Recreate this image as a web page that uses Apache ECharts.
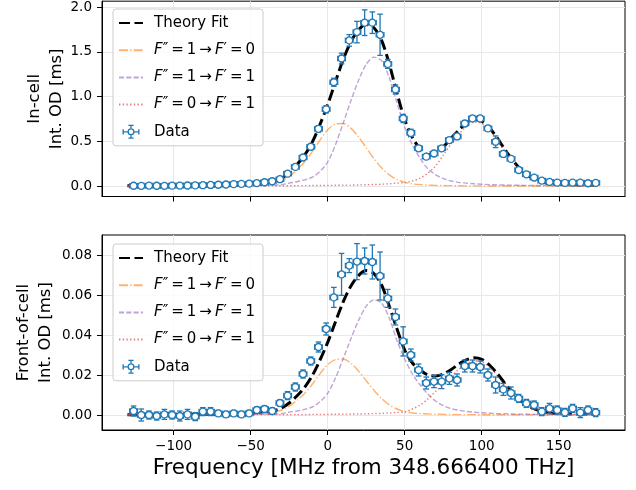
<!DOCTYPE html>
<html><head><meta charset="utf-8">
<script src="https://cdn.jsdelivr.net/npm/echarts@6/dist/echarts.min.js"></script>
<style>html,body{margin:0;padding:0;background:#fff}#c{width:636px;height:490px}</style>
</head><body><div id="c"></div>
<script>
const fitX = [-130,-125,-120,-115,-110,-105,-100,-95,-90,-85,-80,-75,-70,-65,-60,-55,-50,-45,-40,-35,-30,-25,-20,-15,-10,-5,0,5,10,15,20,25,30,35,40,45,50,55,60,65,70,75,80,85,90,95,100,105,110,115,120,125,130,135,140,145,150,155,160,165,170,175];

const topFit = [0.004,0.004,0.004,0.004,0.004,0.006,0.006,0.006,0.006,0.008,
0.009,0.009,0.011,0.012,0.015,0.019,0.023,0.029,0.040,0.056,
0.090,0.150,0.240,0.346,0.492,0.688,0.909,1.163,1.411,1.610,
1.745,1.806,1.768,1.627,1.363,1.038,0.743,0.544,0.417,0.352,
0.364,0.437,0.534,0.623,0.706,0.746,0.725,0.651,0.538,0.410,
0.291,0.192,0.119,0.072,0.044,0.029,0.022,0.017,0.015,0.012,
0.011,0.010];
const topC1 = [0.001,0.001,0.001,0.001,0.001,0.002,0.002,0.002,0.002,0.003,
0.003,0.003,0.004,0.005,0.007,0.009,0.012,0.016,0.024,0.036,
0.063,0.110,0.183,0.270,0.385,0.515,0.630,0.693,0.700,0.648,
0.551,0.430,0.309,0.205,0.126,0.074,0.043,0.026,0.017,0.012,
0.009,0.007,0.006,0.005,0.004,0.004,0.003,0.003,0.003,0.002,
0.002,0.002,0.002,0.002,0.001,0.001,0.001,0.001,0.001,0.001,
0.001,0.001];
const topC2 = [0.002,0.002,0.002,0.002,0.002,0.003,0.003,0.003,0.003,0.004,
0.004,0.004,0.005,0.005,0.006,0.007,0.008,0.009,0.011,0.013,
0.017,0.035,0.050,0.070,0.100,0.165,0.270,0.460,0.700,0.950,
1.180,1.360,1.440,1.400,1.210,0.930,0.660,0.460,0.310,0.195,
0.130,0.085,0.058,0.043,0.034,0.027,0.022,0.018,0.015,0.013,
0.011,0.010,0.009,0.008,0.007,0.006,0.006,0.005,0.005,0.004,
0.004,0.004];
const topC3 = [0.001,0.001,0.001,0.001,0.001,0.001,0.001,0.001,0.001,0.001,
0.002,0.002,0.002,0.002,0.002,0.003,0.003,0.004,0.004,0.004,
0.005,0.005,0.006,0.006,0.007,0.008,0.009,0.010,0.011,0.012,
0.014,0.016,0.019,0.022,0.027,0.034,0.040,0.058,0.090,0.145,
0.225,0.345,0.470,0.575,0.668,0.715,0.700,0.630,0.520,0.395,
0.278,0.180,0.108,0.062,0.036,0.022,0.015,0.011,0.009,0.007,
0.006,0.005];

const botFit = [0.0001,0.0001,0.0001,0.0001,0.0001,0.0002,0.0002,0.0002,0.0002,0.0003,
0.0004,0.0004,0.0005,0.0005,0.0006,0.0008,0.0009,0.0012,0.0016,0.0021,
0.0034,0.0060,0.0095,0.0138,0.0197,0.0275,0.0363,0.0465,0.0564,0.0644,
0.0697,0.0722,0.0707,0.0650,0.0544,0.0430,0.0325,0.0260,0.0225,0.0200,
0.0195,0.0205,0.0226,0.0254,0.0276,0.0286,0.0278,0.0250,0.0208,0.0158,
0.0112,0.0074,0.0047,0.0028,0.0017,0.0010,0.0008,0.0006,0.0005,0.0005,
0.0004,0.0004];
const botC1 = [0.0000,0.0000,0.0000,0.0000,0.0000,0.0001,0.0001,0.0001,0.0001,0.0001,
0.0001,0.0001,0.0002,0.0002,0.0003,0.0004,0.0005,0.0006,0.0010,0.0014,
0.0025,0.0044,0.0073,0.0108,0.0154,0.0206,0.0252,0.0277,0.0280,0.0259,
0.0220,0.0172,0.0124,0.0082,0.0050,0.0030,0.0017,0.0010,0.0007,0.0005,
0.0004,0.0003,0.0002,0.0002,0.0002,0.0002,0.0001,0.0001,0.0001,0.0001,
0.0001,0.0001,0.0001,0.0001,0.0000,0.0000,0.0000,0.0000,0.0000,0.0000,
0.0000,0.0000];
const botC2 = [0.0001,0.0001,0.0001,0.0001,0.0001,0.0001,0.0001,0.0001,0.0001,0.0002,
0.0002,0.0002,0.0002,0.0002,0.0002,0.0003,0.0003,0.0004,0.0004,0.0005,
0.0007,0.0014,0.0020,0.0028,0.0040,0.0066,0.0108,0.0184,0.0280,0.0380,
0.0472,0.0544,0.0576,0.0560,0.0484,0.0372,0.0280,0.0205,0.0150,0.0105,
0.0070,0.0047,0.0032,0.0024,0.0018,0.0014,0.0011,0.0009,0.0007,0.0006,
0.0005,0.0004,0.0004,0.0003,0.0003,0.0002,0.0002,0.0002,0.0002,0.0002,
0.0002,0.0002];
const botC3 = [0.0000,0.0000,0.0000,0.0000,0.0000,0.0000,0.0000,0.0000,0.0000,0.0000,
0.0001,0.0001,0.0001,0.0001,0.0001,0.0001,0.0001,0.0002,0.0002,0.0002,
0.0002,0.0002,0.0002,0.0002,0.0003,0.0003,0.0003,0.0004,0.0004,0.0005,
0.0005,0.0006,0.0007,0.0008,0.0010,0.0013,0.0015,0.0030,0.0050,0.0080,
0.0118,0.0155,0.0192,0.0228,0.0256,0.0270,0.0266,0.0239,0.0198,0.0150,
0.0106,0.0068,0.0041,0.0024,0.0014,0.0008,0.0006,0.0004,0.0003,0.0003,
0.0002,0.0002];

const dataX = [-126,-121,-116,-111,-106,-101,-96,-91,-86,-81,-76,-71,-66,-61,-56,-51,-46,-41,-36,-31,-26,-21,-16,-11,-6,-1,4,9,14,19,24,29,34,39,44,49,54,59,64,69,74,79,84,89,94,99,104,109,114,119,124,129,134,139,144,149,154,159,164,169,174];
const topY = [0.005,0.004,0.007,0.005,0.004,0.006,0.007,0.008,0.009,0.011,
0.014,0.016,0.019,0.023,0.026,0.028,0.034,0.044,0.055,0.078,
0.140,0.215,0.320,0.440,0.640,0.858,1.160,1.425,1.627,1.720,
1.825,1.825,1.690,1.365,1.080,0.756,0.595,0.423,0.330,0.365,
0.423,0.515,0.555,0.700,0.756,0.756,0.645,0.496,0.360,0.305,
0.181,0.133,0.096,0.062,0.048,0.040,0.037,0.040,0.040,0.033,
0.037];
const topErr = [0.012,0.012,0.012,0.012,0.012,0.012,0.012,0.012,0.012,0.012,
0.012,0.012,0.012,0.012,0.012,0.012,0.012,0.012,0.012,0.015,
0.020,0.020,0.022,0.025,0.035,0.040,0.045,0.060,0.065,0.120,
0.143,0.120,0.230,0.050,0.050,0.045,0.040,0.030,0.025,0.025,
0.025,0.025,0.028,0.030,0.030,0.030,0.030,0.065,0.030,0.025,
0.020,0.018,0.015,0.012,0.012,0.012,0.012,0.012,0.012,0.012,
0.012];
const botY = [0.0020,0.0000,0.0000,-0.0005,0.0003,0.0000,-0.0005,0.0003,-0.0008,0.0017,
0.0017,0.0008,0.0003,0.0008,0.0003,0.0008,0.0025,0.0030,0.0020,0.0060,
0.0097,0.0140,0.0205,0.0270,0.0340,0.0430,0.0588,0.0703,0.0747,0.0767,
0.0770,0.0765,0.0695,0.0583,0.0490,0.0368,0.0300,0.0225,0.0160,0.0167,
0.0167,0.0183,0.0175,0.0245,0.0245,0.0240,0.0200,0.0150,0.0128,0.0110,
0.0083,0.0058,0.0050,0.0017,0.0033,0.0025,0.0013,0.0033,0.0012,0.0025,
0.0012];
const botErr = [0.0025,0.0030,0.0020,0.0020,0.0025,0.0020,0.0025,0.0025,0.0020,0.0020,
0.0020,0.0015,0.0015,0.0015,0.0015,0.0015,0.0015,0.0015,0.0015,0.0015,
0.0020,0.0020,0.0020,0.0020,0.0025,0.0030,0.0050,0.0105,0.0035,0.0090,
0.0065,0.0085,0.0120,0.0045,0.0040,0.0073,0.0030,0.0030,0.0030,0.0030,
0.0035,0.0030,0.0030,0.0030,0.0030,0.0030,0.0030,0.0040,0.0030,0.0030,
0.0020,0.0020,0.0020,0.0020,0.0025,0.0020,0.0020,0.0020,0.0025,0.0020,
0.0020];
const xErr = 2.5;

const xTicks = [-100,-50,0,50,100,150];
const topTicks = [0,0.5,1.0,1.5,2.0];
const botTicks = [0,0.02,0.04,0.06,0.08];

const NAME_FIT = 'Theory Fit';
const NAME_C1 = 'F″=1→F′=0';
const NAME_C2 = 'F″=1→F′=1';
const NAME_C3 = 'F″=0→F′=1';
const NAME_DATA = 'Data';
const S = '\u2009';
const legendText = {};
legendText[NAME_FIT] = 'Theory Fit';
legendText[NAME_C1] = '{it|F}″'+S+'='+S+'1'+S+'→'+S+'{it|F}′'+S+'='+S+'0';
legendText[NAME_C2] = '{it|F}″'+S+'='+S+'1'+S+'→'+S+'{it|F}′'+S+'='+S+'1';
legendText[NAME_C3] = '{it|F}″'+S+'='+S+'0'+S+'→'+S+'{it|F}′'+S+'='+S+'1';
legendText[NAME_DATA] = 'Data';

const FONT = 'DejaVu Sans';
const BLUE = '#1f77b4';

const dataIcon = 'path://M12,7 A3.5,3.5 0 1,0 5,7 A3.5,3.5 0 1,0 12,7 Z M10.7,7 A2.2,2.2 0 1,1 6.3,7 A2.2,2.2 0 1,1 10.7,7 Z ' +
  'M0.7,6.35 L5,6.35 L5,7.65 L0.7,7.65 Z M12,6.35 L16.3,6.35 L16.3,7.65 L12,7.65 Z ' +
  'M0,4.4 L1.3,4.4 L1.3,9.6 L0,9.6 Z M15.7,4.4 L17,4.4 L17,9.6 L15.7,9.6 Z ' +
  'M7.85,1.3 L9.15,1.3 L9.15,3.6 L7.85,3.6 Z M5.9,0 L11.1,0 L11.1,1.3 L5.9,1.3 Z ' +
  'M7.85,10.4 L9.15,10.4 L9.15,12.7 L7.85,12.7 Z M5.9,12.7 L11.1,12.7 L11.1,14 L5.9,14 Z';

function zip(xs, ys) { return xs.map((x, i) => [x, ys[i]]); }

function errRender(params, api) {
  const x = api.value(0), y = api.value(1), ey = api.value(2), ex = api.value(3);
  const c = api.coord([x, y]);
  const t = api.coord([x, y + ey]);
  const b = api.coord([x, y - ey]);
  const l = api.coord([x - ex, y]);
  const r = api.coord([x + ex, y]);
  const cap = 2.8;
  const st = { stroke: BLUE, lineWidth: 1.3, fill: null };
  return { type: 'group', children: [
    { type: 'line', shape: { x1: c[0], y1: t[1], x2: c[0], y2: b[1] }, style: st },
    { type: 'line', shape: { x1: c[0] - cap, y1: t[1], x2: c[0] + cap, y2: t[1] }, style: st },
    { type: 'line', shape: { x1: c[0] - cap, y1: b[1], x2: c[0] + cap, y2: b[1] }, style: st },
    { type: 'line', shape: { x1: l[0], y1: c[1], x2: r[0], y2: c[1] }, style: st },
    { type: 'line', shape: { x1: l[0], y1: c[1] - cap, x2: l[0], y2: c[1] + cap }, style: st },
    { type: 'line', shape: { x1: r[0], y1: c[1] - cap, x2: r[0], y2: c[1] + cap }, style: st }
  ]};
}

function panelSeries(g, fit, c1, c2, c3, ys, errs) {
  const common = { xAxisIndex: g, yAxisIndex: g, type: 'line', symbol: 'none', showSymbol: false, smooth: 0.3, silent: true, animation: false };
  return [
    Object.assign({}, common, { name: NAME_FIT, data: zip(fitX, fit), z: 3, lineStyle: { color: '#000', width: 3, type: [11, 4.5] } }),
    Object.assign({}, common, { name: NAME_C1, data: zip(fitX, c1), z: 3, lineStyle: { color: 'rgba(255,127,14,0.6)', width: 1.4, type: [8.9, 2.2, 1.4, 2.2] } }),
    Object.assign({}, common, { name: NAME_C2, data: zip(fitX, c2), z: 3, lineStyle: { color: 'rgba(148,103,189,0.6)', width: 1.4, type: [5.1, 2.2] } }),
    Object.assign({}, common, { name: NAME_C3, data: zip(fitX, c3), z: 3, lineStyle: { color: 'rgba(214,39,40,0.6)', width: 1.4, type: [1.4, 2.3] } }),
    { type: 'custom', name: 'errbars', xAxisIndex: g, yAxisIndex: g, z: 4, silent: true, animation: false,
      renderItem: errRender, encode: { x: 0, y: 1 },
      data: dataX.map((x, i) => [x, ys[i], errs[i], xErr]) },
    { type: 'scatter', name: NAME_DATA, xAxisIndex: g, yAxisIndex: g, z: 6, silent: true, animation: false,
      symbol: 'circle', symbolSize: 7,
      itemStyle: { color: '#ffffff', borderColor: BLUE, borderWidth: 1.3, opacity: 1 },
      data: zip(dataX, ys) }
  ];
}

function legendCfg(top) {
  const hide = { opacity: 0 };
  return {
    orient: 'vertical', left: 113, top: top,
    padding: [5, 8, 5, 5], itemGap: 9.2, itemWidth: 24, itemHeight: 14,
    backgroundColor: 'rgba(255,255,255,0.8)', borderColor: '#cccccc', borderWidth: 1, borderRadius: 3,
    selectedMode: false,
    data: [
      { name: NAME_FIT, itemStyle: hide },
      { name: NAME_C1, itemStyle: hide },
      { name: NAME_C2, itemStyle: hide },
      { name: NAME_C3, itemStyle: hide },
      { name: NAME_DATA, icon: dataIcon, itemStyle: { color: BLUE, borderWidth: 0, opacity: 1 } }
    ],
    formatter: name => legendText[name],
    textStyle: { fontFamily: FONT, fontSize: 15, color: '#000', lineHeight: 18, padding: [0, 0, 0, 6],
      rich: { it: { fontFamily: FONT, fontStyle: 'italic', fontSize: 15, color: '#000', lineHeight: 18 } } }
  };
}

const xFmt = v => (v < 0 ? '\u2212' + Math.abs(v) : String(v));
const gridLine = { show: true, lineStyle: { color: '#e8e8e8', width: 1 } };
const tickStyle = { lineStyle: { color: '#000', width: 1 }, length: 5 };

function xAxisCfg(g, showLabels) {
  const a = {
    gridIndex: g, type: 'value', min: -146.5, max: 193,
    axisLine: { onZero: false, lineStyle: { color: '#000', width: 1 } },
    axisTick: Object.assign({ customValues: xTicks }, tickStyle),
    axisLabel: { show: showLabels, customValues: xTicks, formatter: xFmt, fontFamily: FONT, fontSize: 13.5, color: '#000', margin: 9 },
    splitLine: gridLine
  };
  if (showLabels) {
    a.name = 'Frequency [MHz from 348.666400 THz]';
    a.nameLocation = 'middle';
    a.nameGap = 25;
    a.nameMoveOverlap = false;
    a.nameTextStyle = { fontFamily: FONT, fontSize: 21.5, color: '#000', lineHeight: 26 };
  }
  return a;
}
function yAxisCfg(g, min, max, ticks, dec, name, gap) {
  return {
    gridIndex: g, type: 'value', min: min, max: max,
    axisLine: { onZero: false, lineStyle: { color: '#000', width: 1 } },
    axisTick: Object.assign({ customValues: ticks }, tickStyle),
    axisLabel: { customValues: ticks, formatter: v => v.toFixed(dec), fontFamily: FONT, fontSize: 13.5, color: '#000', margin: 10 },
    splitLine: gridLine,
    name: name, nameLocation: 'middle', nameGap: gap, nameMoveOverlap: false,
    nameTextStyle: { fontFamily: FONT, fontSize: 16.5, color: '#000', lineHeight: 22 }
  };
}

const chart = echarts.init(document.getElementById('c'), null, { renderer: 'canvas' });
chart.setOption({
  backgroundColor: '#fff',
  animation: false,
  textStyle: { fontFamily: FONT },
  grid: [
    { left: 102, right: 11, top: 1, height: 195.5, show: true, borderColor: '#000', borderWidth: 1, backgroundColor: 'transparent' },
    { left: 102, right: 11, top: 235, height: 195, show: true, borderColor: '#000', borderWidth: 1, backgroundColor: 'transparent' }
  ],
  xAxis: [xAxisCfg(0, false), xAxisCfg(1, true)],
  yAxis: [
    yAxisCfg(0, -0.115, 2.065, topTicks, 1, 'In-cell\nInt. OD [ms]', 34),
    yAxisCfg(1, -0.0075, 0.09, botTicks, 2, 'Front-of-cell\nInt. OD [ms]', 45)
  ],
  legend: [legendCfg(9), legendCfg(244)],
  series: [].concat(
    panelSeries(0, topFit, topC1, topC2, topC3, topY, topErr),
    panelSeries(1, botFit, botC1, botC2, botC3, botY, botErr)
  )
});
</script></body></html>
